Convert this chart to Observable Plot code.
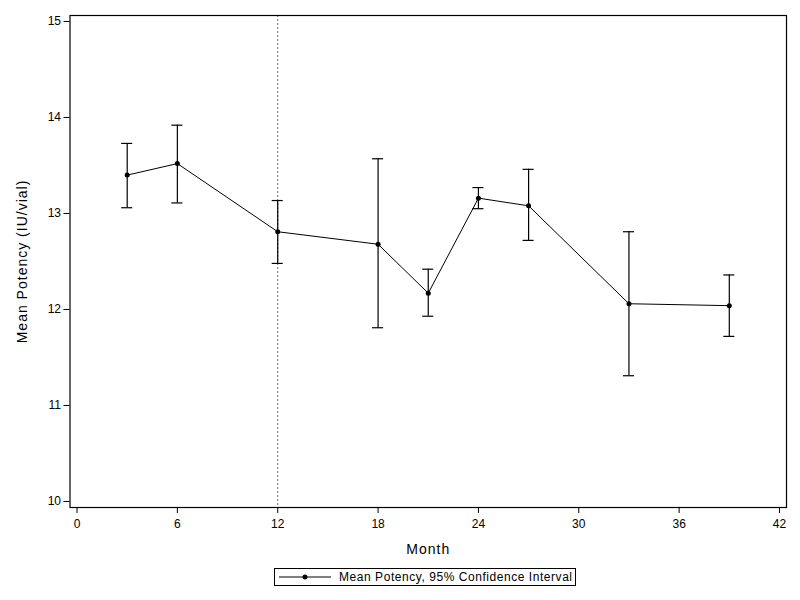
<!DOCTYPE html>
<html>
<head>
<meta charset="utf-8">
<script src="https://cdn.jsdelivr.net/npm/d3@7"></script>
<script src="https://cdn.jsdelivr.net/npm/@observablehq/plot@0.6"></script>
<style>
  body { margin: 0; background: #fff; font-family: "Liberation Sans", Arial, sans-serif; }
  #wrap { position: relative; width: 800px; height: 600px; }
  #legend { position: absolute; left: 274px; top: 568px; width: 300px; height: 16px; border: 1px solid #000; font-size: 12px; letter-spacing: 0.55px; display: flex; align-items: center; background: #fff; white-space: nowrap; }
  #legend svg { margin-left: 4px; margin-right: 8px; flex: none; }
  .lbl { letter-spacing: 1px; }
</style>
</head>
<body>
<div id="wrap">
  <div id="chart"></div>
  <div id="legend">
    <svg width="52" height="10"><line x1="0" y1="5" x2="52" y2="5" stroke="#000" stroke-width="1"/><circle cx="26" cy="5" r="2.5" fill="#000"/></svg>
    <span>Mean Potency, 95% Confidence Interval</span>
  </div>
</div>
<script>
const months = [3, 6, 12, 18, 21, 24, 27, 33, 39];
const meanPotency = [13.40, 13.52, 12.81, 12.68, 12.17, 13.16, 13.08, 12.06, 12.04];
const lowerCI = [13.06, 13.11, 12.48, 11.81, 11.93, 13.05, 12.72, 11.31, 11.72];
const upperCI = [13.73, 13.92, 13.135, 13.57, 12.42, 13.27, 13.46, 12.81, 12.36];
const xTicks = [0, 6, 12, 18, 24, 30, 36, 42];
const yTicks = [10, 11, 12, 13, 14, 15];
const refMonth = [12];

const data = months.map((m, i) => ({month: m, mean: meanPotency[i], lo: lowerCI[i], hi: upperCI[i]}));
const capHalf = 0.33;

const chart = Plot.plot({
  width: 800,
  height: 565,
  marginLeft: 69.5,
  marginRight: 14,
  marginTop: 15,
  marginBottom: 58,
  style: {fontFamily: "Liberation Sans, Arial, sans-serif", fontSize: "12px", color: "#000", background: "#fff"},
  x: {domain: [-0.42, 42.42]},
  y: {domain: [9.9375, 15.0625]},
  marks: [
    Plot.ruleX(refMonth, {stroke: "#666", strokeDasharray: "2,2", strokeWidth: 1}),
    Plot.ruleX(data, {x: "month", y1: "lo", y2: "hi", stroke: "#000", strokeWidth: 1.2}),
    Plot.ruleY(data, {y: "hi", x1: d => d.month - capHalf, x2: d => d.month + capHalf, stroke: "#000", strokeWidth: 1.2}),
    Plot.ruleY(data, {y: "lo", x1: d => d.month - capHalf, x2: d => d.month + capHalf, stroke: "#000", strokeWidth: 1.2}),
    Plot.line(data, {x: "month", y: "mean", stroke: "#000", strokeWidth: 1}),
    Plot.dot(data, {x: "month", y: "mean", r: 2.5, fill: "#000"}),
    Plot.frame({stroke: "#000", strokeWidth: 1.2}),
    Plot.axisX({ticks: xTicks, tickSize: 6, tickPadding: 6, label: null, tickFormat: d => d}),
    Plot.axisY({ticks: yTicks, tickSize: 6, tickPadding: 3, label: null, tickFormat: d => d}),
    Plot.text(["Month"], {frameAnchor: "bottom", dy: 42, lineAnchor: "middle", fontSize: 14, className: "lbl", text: d => d}),
    Plot.text(["Mean Potency (IU/vial)"], {frameAnchor: "left", dx: -47, rotate: -90, textAnchor: "middle", lineAnchor: "middle", fontSize: 14, className: "lbl", text: d => d})
  ]
});
document.getElementById("chart").appendChild(chart);
</script>
</body>
</html>
